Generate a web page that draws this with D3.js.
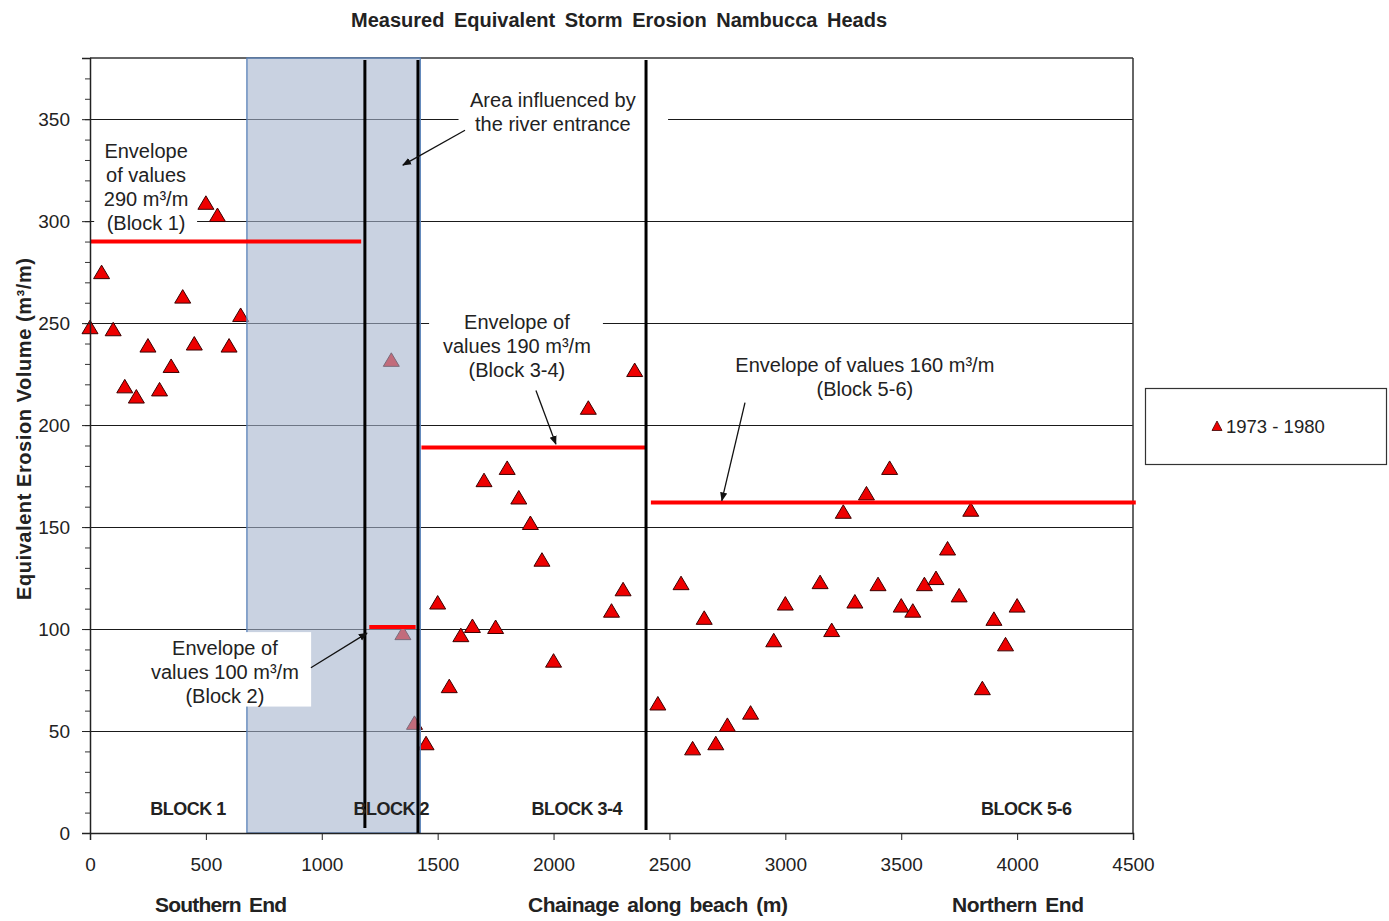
<!DOCTYPE html>
<html>
<head>
<meta charset="utf-8">
<script src="https://cdn.jsdelivr.net/npm/d3@7"></script>
<style>
  html, body { margin: 0; padding: 0; background: #fff; }
  svg { display: block; }
  text { font-family: "Liberation Sans", Arial, sans-serif; fill: #222; }
</style>
</head>
<body>
<svg id="chart" width="1389" height="921"></svg>
<script>
// ---------------- data ----------------
const chainage = [0, 50, 100, 150, 200, 250, 300, 350, 400, 450, 500, 550, 600, 650,
  1300, 1350, 1400, 1450, 1500, 1550, 1600, 1650, 1700, 1750, 1800, 1850, 1900, 1950, 2000,
  2150, 2250, 2300, 2350,
  2450, 2550, 2600, 2650, 2700, 2750, 2850, 2950, 3000, 3150, 3200, 3250, 3300, 3350, 3400,
  3450, 3500, 3550, 3600, 3650, 3700, 3750, 3800, 3850, 3900, 3950, 4000];
const erosion = [248, 275, 247, 219, 214, 239, 217.5, 229, 263, 240, 309, 303, 239, 254,
  232, 98, 54, 44, 113, 72, 97, 101.5, 173, 101, 179, 164.5, 152, 134, 84.5,
  208.5, 109, 119.5, 227,
  63.5, 122.5, 41.5, 105.5, 44, 53, 59, 94.5, 112.5, 123, 99.5, 157.5, 113.5, 166.5, 122,
  179, 111.5, 109, 122, 125, 139.5, 116.5, 158.5, 71, 105, 92.5, 111.5];

const xTicks = [0, 500, 1000, 1500, 2000, 2500, 3000, 3500, 4000, 4500];
const yTicks = [0, 50, 100, 150, 200, 250, 300, 350];
const gridValues = [50, 100, 150, 200, 250, 300, 350];

// envelope lines (red)
const envStart = [0, 1205, 1430, 2420];
const envEnd = [1170, 1405, 2400, 4512];
const envValue = [290, 101, 189, 162];

// area influenced by the river entrance
const riverStart = [677];
const riverEnd = [1425];

// block dividers
const dividerX = [1186, 1415, 2399];
const dividerTop = [379, 379, 379];
const dividerBottom = [2.5, 0, 1.5];

const blockLabels = ["BLOCK 1", "BLOCK 2", "BLOCK 3-4", "BLOCK 5-6"];
const blockLabelX = [423, 1300, 2100, 4040];
const blockLabelY = [11.8, 11.8, 11.8, 11.8];

// annotations (anchor in data units)
const annoLines = [
  ["Envelope", "of values", "290 m³/m", "(Block 1)"],
  ["Area influenced by", "the river entrance"],
  ["Envelope of", "values 190  m³/m", "(Block 3-4)"],
  ["Envelope of values 160 m³/m", "(Block 5-6)"],
  ["Envelope of", "values 100  m³/m", "(Block 2)"]
];
const annoX = [242, 1997, 1842, 3343, 582];
const annoY = [334.3, 359.3, 250.5, 229.4, 90.7];
// white boxes behind annotations: [x0, x1, yTop, yBottom] in data units
const boxX0 = [18, 1590, 1463, 2740, 246];
const boxX1 = [462, 2494, 2213, 3948, 954];
const boxY0 = [341, 365, 257, 235.5, 98.5];
const boxY1 = [294, 341, 220.5, 212, 62];

// arrows: from -> to (data units)
const arrowFromX = [1618, 1924, 2826, 953];
const arrowFromY = [344.6, 217, 211, 81];
const arrowToX = [1350, 2010, 2726, 1195];
const arrowToY = [327.5, 190.7, 163, 98];

const legendLabel = "1973 - 1980";

// ---------------- drawing ----------------
const svg = d3.select("#chart");
const x = d3.scaleLinear().domain([0, 4500]).range([90, 1133]);
const y = d3.scaleLinear().domain([0, 380]).range([833, 58]);

const defs = svg.append("defs");
defs.append("marker").attr("id", "arr").attr("viewBox", "0 0 10 10")
  .attr("refX", 9).attr("refY", 5).attr("markerWidth", 9).attr("markerHeight", 9)
  .attr("markerUnits", "userSpaceOnUse").attr("orient", "auto")
  .append("path").attr("d", "M0,1 L10,5 L0,9 Z").attr("fill", "#111");

// gridlines
svg.append("g").selectAll("line").data(gridValues).join("line")
  .attr("x1", x(0)).attr("x2", x(4500))
  .attr("y1", d => Math.round(y(d)) + 0.5).attr("y2", d => Math.round(y(d)) + 0.5)
  .attr("stroke", "#1a1a1a").attr("stroke-width", 1.2);

// frame top / right
svg.append("line").attr("x1", x(0)).attr("x2", x(4500)).attr("y1", y(380)).attr("y2", y(380))
  .attr("stroke", "#333").attr("stroke-width", 1.5);
svg.append("line").attr("x1", x(4500)).attr("x2", x(4500)).attr("y1", y(380)).attr("y2", y(0))
  .attr("stroke", "#333").attr("stroke-width", 1.5);

// triangles
const tri = "M0,-7 L8,6.5 L-8,6.5 Z";
const pts = chainage.map((c, i) => ({ c, v: erosion[i] }));
svg.append("g").selectAll("path").data(pts).join("path")
  .attr("d", tri)
  .attr("transform", d => `translate(${x(d.c)},${y(d.v)})`)
  .attr("fill", "#ee0000").attr("stroke", "#3a0000").attr("stroke-width", 1);

// shaded region (semi-transparent overlay)
svg.append("g").selectAll("rect").data(riverStart).join("rect")
  .attr("x", (d, i) => x(d)).attr("width", (d, i) => x(riverEnd[i]) - x(d))
  .attr("y", y(380)).attr("height", y(0) - y(380))
  .attr("fill", "rgb(165,180,205)").attr("fill-opacity", 0.6)
  .attr("stroke", "#5a82b8").attr("stroke-width", 1.3);

// white boxes behind annotations
svg.append("g").selectAll("rect").data(boxX0).join("rect")
  .attr("x", (d) => x(d)).attr("width", (d, i) => x(boxX1[i]) - x(d))
  .attr("y", (d, i) => y(boxY0[i])).attr("height", (d, i) => y(boxY1[i]) - y(boxY0[i]))
  .attr("fill", "#fff");

// envelope lines
svg.append("g").selectAll("line").data(envValue).join("line")
  .attr("x1", (d, i) => x(envStart[i])).attr("x2", (d, i) => x(envEnd[i]))
  .attr("y1", d => y(d)).attr("y2", d => y(d))
  .attr("stroke", "#ff0000").attr("stroke-width", 4);

// dividers
svg.append("g").selectAll("line").data(dividerX).join("line")
  .attr("x1", d => x(d)).attr("x2", d => x(d))
  .attr("y1", (d, i) => y(dividerTop[i])).attr("y2", (d, i) => y(dividerBottom[i]))
  .attr("stroke", "#000").attr("stroke-width", 3);

// axes
const yMinor = svg.append("g").attr("transform", `translate(${x(0)},0)`)
  .call(d3.axisLeft(y).tickValues(d3.range(0, 381, 10)).tickSize(5).tickFormat(""));
yMinor.select(".domain").remove();
yMinor.selectAll("line").attr("stroke", "#333");

const yAxis = svg.append("g").attr("transform", `translate(${x(0)},0)`)
  .call(d3.axisLeft(y).tickValues(yTicks).tickSize(8).tickPadding(12));
yAxis.select(".domain").attr("stroke", "#222").attr("stroke-width", 1.5);
yAxis.selectAll("line").attr("stroke", "#222");
yAxis.selectAll("text").attr("font-size", 19).attr("fill", "#2a2a2a")
  .attr("font-family", "Liberation Sans, Arial, sans-serif");

const xAxis = svg.append("g").attr("transform", `translate(0,${y(0)})`)
  .call(d3.axisBottom(x).tickValues(xTicks).tickSize(7).tickPadding(18).tickFormat(d3.format("d")));
xAxis.select(".domain").attr("stroke", "#222").attr("stroke-width", 1.5);
xAxis.selectAll("line").attr("stroke", "#222");
xAxis.selectAll("text").attr("font-size", 19).attr("fill", "#2a2a2a")
  .attr("font-family", "Liberation Sans, Arial, sans-serif");

// block labels
svg.append("g").selectAll("text").data(blockLabels).join("text")
  .attr("x", (d, i) => x(blockLabelX[i])).attr("y", (d, i) => y(blockLabelY[i]))
  .attr("dy", "0.35em").attr("text-anchor", "middle")
  .attr("font-size", 18).attr("font-weight", "bold").attr("letter-spacing", -0.5)
  .attr("fill", "#111").text(d => d);

// annotations
annoLines.forEach((lines, i) => {
  const t = svg.append("text").attr("text-anchor", "middle").attr("font-size", 20).attr("fill", "#222");
  lines.forEach((ln, j) => {
    t.append("tspan").attr("x", x(annoX[i])).attr("y", y(annoY[i]) + j * 23.8)
      .attr("dy", "0.35em").text(ln);
  });
});

// arrows
svg.append("g").selectAll("line").data(arrowFromX).join("line")
  .attr("x1", d => x(d)).attr("y1", (d, i) => y(arrowFromY[i]))
  .attr("x2", (d, i) => x(arrowToX[i])).attr("y2", (d, i) => y(arrowToY[i]))
  .attr("stroke", "#111").attr("stroke-width", 1.3).attr("marker-end", "url(#arr)");

// title
svg.append("text").attr("x", 619).attr("y", 20).attr("dy", "0.35em").attr("text-anchor", "middle")
  .attr("font-family", "'Liberation Sans Narrow', 'Liberation Sans', Arial, sans-serif")
  .attr("font-size", 20).attr("font-weight", "bold").attr("fill", "#111")
  .attr("word-spacing", 4)
  .attr("textLength", 536).attr("lengthAdjust", "spacing")
  .text("Measured Equivalent Storm Erosion Nambucca Heads");

// y label
svg.append("text").attr("transform", "translate(24,429) rotate(-90)").attr("dy", "0.35em")
  .attr("text-anchor", "middle").attr("font-size", 20).attr("font-weight", "bold").attr("fill", "#111")
  .attr("textLength", 342).attr("lengthAdjust", "spacing")
  .text("Equivalent Erosion Volume (m³/m)");

// x labels
const xLabels = ["Southern End", "Chainage along beach (m)", "Northern End"];
const xLabelCx = [221, 658, 1018];
const xLabelW = [132, 260, 132];
svg.append("g").selectAll("text").data(xLabels).join("text")
  .attr("x", (d, i) => xLabelCx[i]).attr("y", 905).attr("dy", "0.35em").attr("text-anchor", "middle")
  .attr("font-family", "'Liberation Sans Narrow', 'Liberation Sans', Arial, sans-serif")
  .attr("font-size", 21).attr("font-weight", "bold").attr("fill", "#111")
  .attr("word-spacing", 3)
  .attr("textLength", (d, i) => xLabelW[i]).attr("lengthAdjust", "spacing")
  .text(d => d);

// legend
const lg = svg.append("g");
lg.append("rect").attr("x", 1145.5).attr("y", 388.5).attr("width", 241).attr("height", 76)
  .attr("fill", "#fff").attr("stroke", "#333").attr("stroke-width", 1.2);
lg.append("path").attr("d", "M0,-5 L5,4.5 L-5,4.5 Z").attr("transform", "translate(1217,426)")
  .attr("fill", "#ee0000").attr("stroke", "#3a0000").attr("stroke-width", 0.8);
lg.append("text").attr("x", 1226).attr("y", 427).attr("dy", "0.35em").attr("font-size", 18.5)
  .attr("fill", "#222").text(legendLabel);
</script>
</body>
</html>
